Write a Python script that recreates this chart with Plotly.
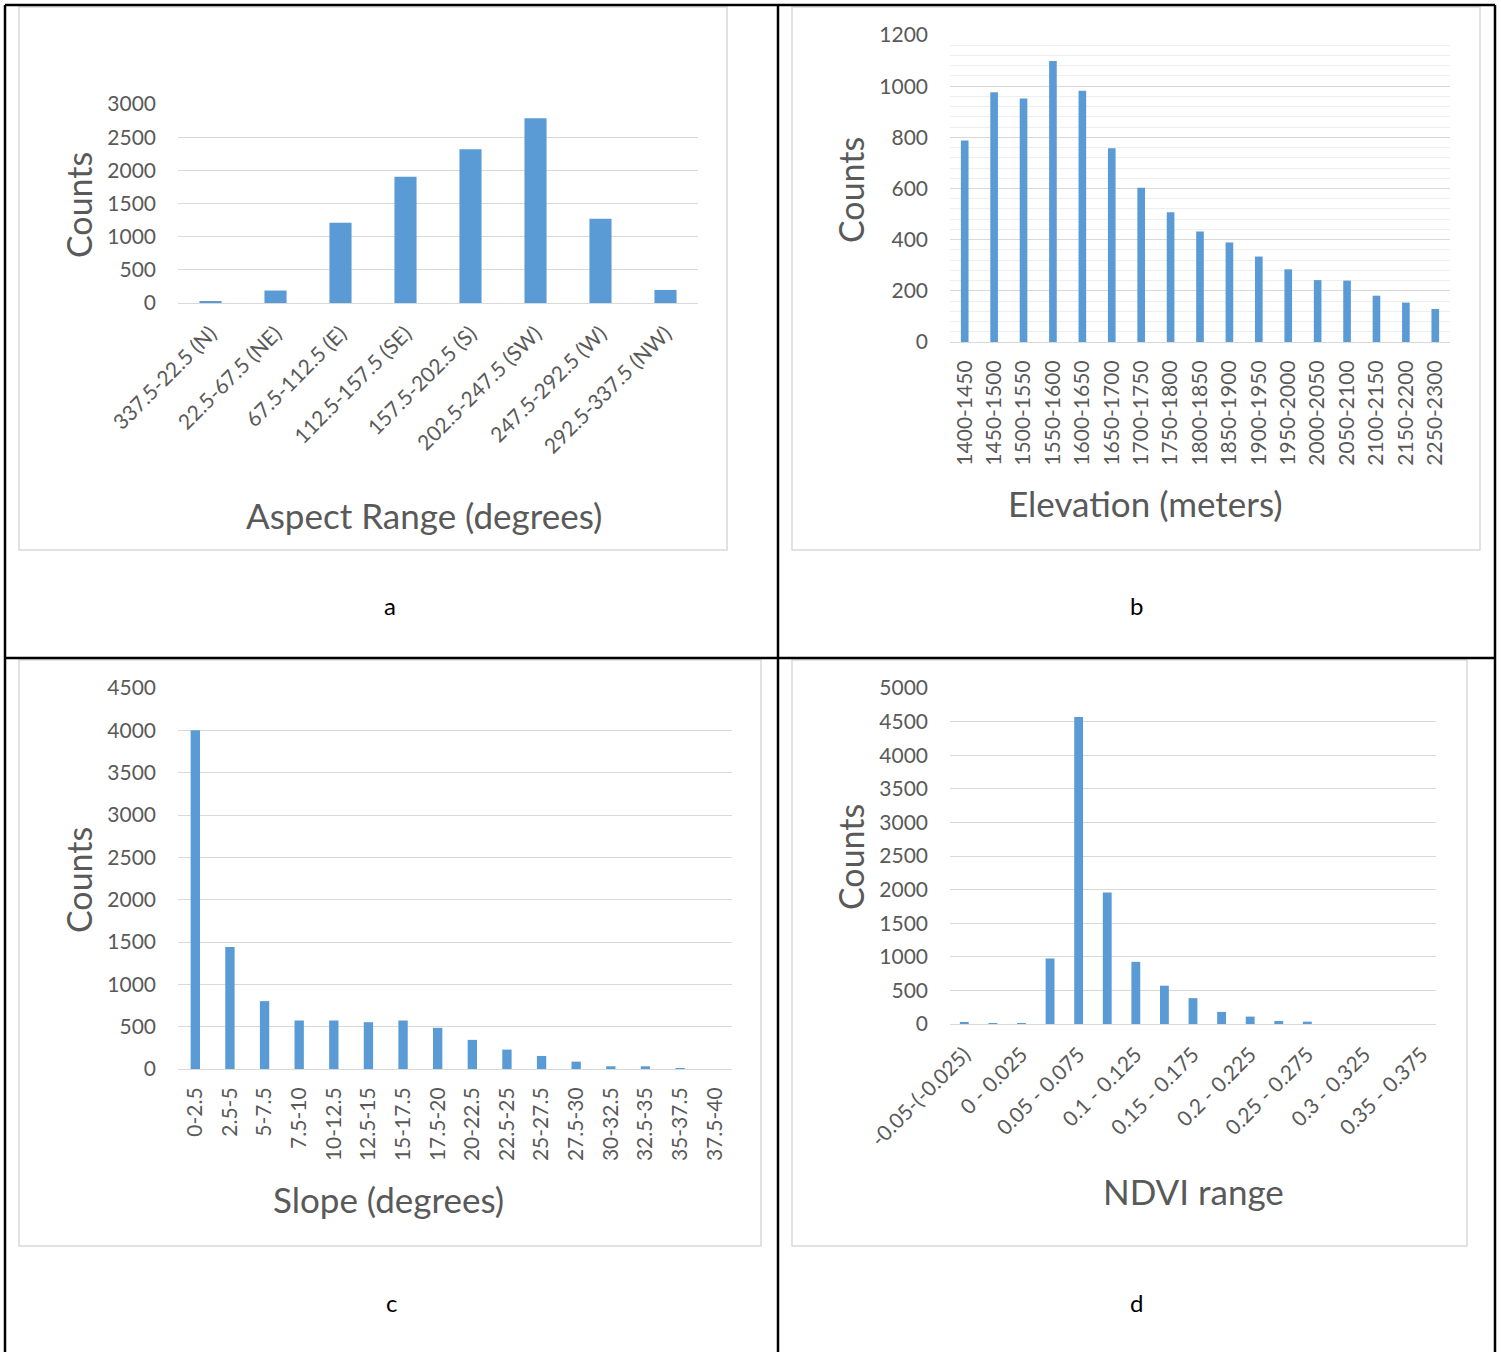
import plotly.graph_objects as go

# ---- data -------------------------------------------------------------
aspect_bins = ["337.5-22.5 (N)", "22.5-67.5 (NE)", "67.5-112.5 (E)", "112.5-157.5 (SE)",
               "157.5-202.5 (S)", "202.5-247.5 (SW)", "247.5-292.5 (W)", "292.5-337.5 (NW)"]
aspect_counts = [30, 188, 1210, 1905, 2318, 2787, 1270, 197]

elev_bins = ["1400-1450", "1450-1500", "1500-1550", "1550-1600", "1600-1650", "1650-1700",
             "1700-1750", "1750-1800", "1800-1850", "1850-1900", "1900-1950", "1950-2000",
             "2000-2050", "2050-2100", "2100-2150", "2150-2200", "2250-2300"]
elev_counts = [788, 976, 952, 1098, 982, 757, 603, 507, 432, 389, 334, 284,
               242, 240, 181, 154, 129]

slope_bins = ["0-2.5", "2.5-5", "5-7.5", "7.5-10", "10-12.5", "12.5-15", "15-17.5", "17.5-20",
              "20-22.5", "22.5-25", "25-27.5", "27.5-30", "30-32.5", "32.5-35", "35-37.5", "37.5-40"]
slope_counts = [4000, 1440, 802, 573, 573, 553, 573, 486, 344, 229, 154, 87, 32, 32, 8, 0]

ndvi_bins = ["-0.05-(-0.025)", "-0.025 - 0", "0 - 0.025", "0.025 - 0.05", "0.05 - 0.075",
             "0.075 - 0.1", "0.1 - 0.125", "0.125 - 0.15", "0.15 - 0.175", "0.175 - 0.2",
             "0.2 - 0.225", "0.225 - 0.25", "0.25 - 0.275", "0.275 - 0.3", "0.3 - 0.325",
             "0.325 - 0.35", "0.35 - 0.375"]
ndvi_counts = [15, 8, 8, 975, 4570, 1955, 925, 570, 385, 180, 110, 45, 35, 0, 0, 0, 0]

# ---- styling ----------------------------------------------------------
W, H = 1501, 1352
FONT = "Lato"
BAR = "#5b9bd5"
TXT = "#595959"
GRID = "#d9d9d9"


def px(x):
    return x / W


def py(y):
    return 1 - y / H


fig = go.Figure()

panels = [
    # (suffix, cats, vals, bar width, plot box (x0, x1, y_top, y_bottom), y max, dtick, tick angle, tickvals)
    ("", aspect_bins, aspect_counts, 0.34, (178, 698, 104, 303), 3000, 500, -45, None),
    ("2", elev_bins, elev_counts, 0.26, (950, 1450, 35, 342), 1200, 200, -90, None),
    ("3", slope_bins, slope_counts, 0.27, (178, 732, 688, 1069), 4500, 500, -90, None),
    ("4", ndvi_bins, ndvi_counts, 0.31, (950, 1436, 688, 1024), 5000, 500, -45, ndvi_bins[::2]),
]

layout = {}
for sfx, cats, vals, bw, box, ymax, dt, ang, tv in panels:
    x0, x1, yt, yb = box
    fig.add_trace(go.Bar(x=cats, y=vals, width=bw, marker=dict(color=BAR, line=dict(width=0)),
                         xaxis="x" + sfx, yaxis="y" + sfx, showlegend=False))
    xa = dict(domain=[px(x0), px(x1)], anchor="y" + sfx, type="category",
              range=[-0.5, len(cats) - 0.5], showgrid=False, zeroline=False,
              showline=True, linecolor=GRID, linewidth=1, ticks="", automargin=False,
              tickangle=ang, tickfont=dict(family=FONT, size=21, color=TXT),
              ticklabelstandoff=9)
    if tv is not None:
        xa.update(tickmode="array", tickvals=tv, ticktext=tv)
    ya = dict(domain=[py(yb), py(yt)], anchor="x" + sfx, range=[0, ymax], dtick=dt,
              showgrid=True, gridcolor=GRID, gridwidth=1, zeroline=False, showline=False,
              ticks="", automargin=False, tickfont=dict(family=FONT, size=21, color=TXT),
              ticklabelstandoff=21)
    if sfx == "2":
        ya["minor"] = dict(dtick=40, showgrid=True, gridcolor="#eeeeee", gridwidth=1)
    layout["xaxis" + sfx] = xa
    layout["yaxis" + sfx] = ya

fig.update_layout(**layout)

# ---- axis titles and panel letters -------------------------------------
titles = [
    ("Counts", 78, 205, -90), ("Aspect Range (degrees)", 424, 515, 0),
    ("Counts", 850, 190, -90), ("Elevation (meters)", 1145, 503, 0),
    ("Counts", 78, 880, -90), ("Slope (degrees)", 388, 1199, 0),
    ("Counts", 850, 857, -90), ("NDVI range", 1193, 1191, 0),
]
for text, x, y, rot in titles:
    fig.add_annotation(text=text, x=px(x), y=py(y), xref="paper", yref="paper",
                       showarrow=False, textangle=rot, xanchor="center", yanchor="middle",
                       font=dict(family=FONT, size=34 if rot else 35, color=TXT))

for text, x, y in [("a", 390, 605), ("b", 1136, 605), ("c", 391, 1302), ("d", 1136, 1302)]:
    fig.add_annotation(text=text, x=px(x), y=py(y), xref="paper", yref="paper",
                       showarrow=False, xanchor="center", yanchor="middle",
                       font=dict(family=FONT, size=24, color="#000000"))

# ---- chart frames and table rules ---------------------------------------
shapes = []
for x0, y0, x1, y1 in [(19, 7, 727, 550), (792, 7, 1480, 550),
                       (19, 660, 761, 1246), (792, 660, 1467, 1246)]:
    shapes.append(dict(type="rect", xref="paper", yref="paper",
                       x0=px(x0), x1=px(x1), y0=py(y1), y1=py(y0),
                       line=dict(color=GRID, width=1.5), layer="below"))
for x0, y0, x1, y1 in [(5, 5, 1495, 5), (5, 658, 1495, 658),
                       (5, 5, 5, 1352), (778, 5, 778, 1352), (1495, 5, 1495, 1352)]:
    shapes.append(dict(type="line", xref="paper", yref="paper",
                       x0=px(x0), x1=px(x1), y0=py(y0), y1=py(y1),
                       line=dict(color="#000000", width=2.5)))

fig.update_layout(width=W, height=H,
                  margin=dict(l=0, r=0, t=0, b=0, pad=0, autoexpand=False),
                  paper_bgcolor="white", plot_bgcolor="white", shapes=shapes,
                  bargap=0.66)

fig.write_html("out.html")
